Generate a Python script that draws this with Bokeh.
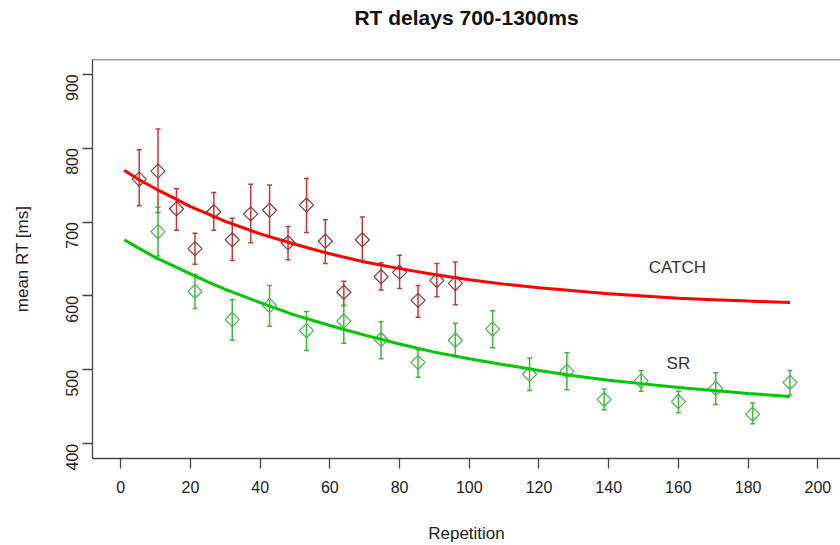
import math
from bokeh.plotting import figure
from bokeh.models import ColumnDataSource, Span, Range1d, FixedTicker, Label, Title
from bokeh.embed import file_html
from bokeh.resources import INLINE

# ---- data ----
catch_x = [5.3, 10.7, 16.0, 21.3, 26.7, 32.0, 37.3, 42.7, 48.0, 53.3, 58.7, 64.0,
           69.3, 74.7, 80.0, 85.3, 90.7, 96.0]
catch_mean = [758, 769, 718, 664, 714, 676, 711, 716, 672, 723, 674, 605,
              676, 626, 632, 594, 621, 617]
catch_lo = [722, 713, 689, 643, 689, 648, 672, 680, 649, 686, 644, 587,
            647, 608, 610, 571, 599, 588]
catch_hi = [798, 826, 745, 685, 740, 705, 751, 750, 694, 759, 703, 620,
            707, 645, 655, 614, 644, 646]

sr_x = [10.7, 21.3, 32.0, 42.7, 53.3, 64.0, 74.7, 85.3, 96.0, 106.7, 117.3, 128.0,
        138.7, 149.3, 160.0, 170.7, 181.3, 192.0]
sr_mean = [687, 606, 568, 587, 553, 566, 541, 510, 540, 555, 494, 498,
           460, 485, 457, 475, 440, 483]
sr_lo = [654, 583, 540, 559, 526, 536, 515, 490, 518, 530, 472, 473,
         446, 471, 442, 453, 427, 466]
sr_hi = [720, 629, 595, 614, 579, 587, 565, 527, 563, 580, 516, 523,
         474, 499, 471, 496, 455, 499]

curve_x = [1, 5, 10, 15, 20, 25, 30, 40, 50, 60, 70, 80, 90, 100, 110, 120, 130,
           140, 150, 160, 170, 180, 192]
catch_curve = [770, 758, 745, 733, 721, 711, 701, 684, 670, 657, 646, 637, 629,
               622, 616, 611, 607, 603, 600, 597, 595, 593, 591]
sr_curve = [676, 665, 652, 641, 630, 619, 609, 591, 574, 560, 547, 535, 524,
            515, 507, 499, 492, 486, 481, 476, 472, 468, 464]

x_ticks = [0, 20, 40, 60, 80, 100, 120, 140, 160, 180, 200]
y_ticks = [400, 500, 600, 700, 800, 900]
title_text = "RT delays 700-1300ms"

FONT = "Liberation Sans"
AXC = "#444444"

p = figure(width=840, height=545, output_backend="svg", toolbar_location=None,
           x_range=Range1d(-8.1, 206.5), y_range=Range1d(380, 920),
           min_border_left=92, min_border_right=0, min_border_top=0,
           min_border_bottom=86)
p.outline_line_color = None
p.xgrid.visible = False
p.ygrid.visible = False
p.background_fill_color = "white"
p.border_fill_color = "white"

p.title.text = title_text
p.title.align = "center"
p.title.text_font = FONT
p.title.text_font_size = "21px"
p.title.text_font_style = "bold"
p.title.text_color = "#111111"
p.title.standoff = 6

# blank spacer between title and plot box
p.add_layout(Title(text=" ", text_font_size="10px", standoff=15), "above")

for ax in (p.xaxis[0], p.yaxis[0]):
    ax.axis_line_color = AXC
    ax.axis_line_width = 1.3
    ax.major_tick_line_color = AXC
    ax.major_tick_line_width = 1.3
    ax.major_tick_out = 10
    ax.major_tick_in = 0
    ax.minor_tick_line_color = None
    ax.major_label_text_font = FONT
    ax.major_label_text_font_size = "16px"
    ax.major_label_text_color = "#222222"
    ax.axis_label_text_font = FONT
    ax.axis_label_text_font_size = "17px"
    ax.axis_label_text_font_style = "normal"
    ax.axis_label_text_color = "#222222"

p.xaxis.ticker = FixedTicker(ticks=x_ticks)
p.yaxis.ticker = FixedTicker(ticks=y_ticks)
p.xaxis.axis_label = "Repetition"
p.yaxis.axis_label = "mean RT [ms]"
p.xaxis.major_label_standoff = 12
p.xaxis.axis_label_standoff = 28
p.yaxis.major_label_orientation = math.pi / 2
p.yaxis.major_label_standoff = 10
p.yaxis.axis_label_standoff = 26

p.add_layout(Span(location=920, dimension="width", line_color=AXC, line_width=1.3))

catch_src = ColumnDataSource(dict(x=catch_x, m=catch_mean, lo=catch_lo, hi=catch_hi))
sr_src = ColumnDataSource(dict(x=sr_x, m=sr_mean, lo=sr_lo, hi=sr_hi))

for src, ecol, mcol in ((catch_src, "#C43a3a", "#8B3A3A"), (sr_src, "#3DB83D", "#4CAF50")):
    p.segment(x0="x", y0="lo", x1="x", y1="hi", source=src, line_color=ecol, line_width=1.5)
    p.scatter(x="x", y="lo", source=src, marker="dash", size=5, line_color=ecol, line_width=1.5)
    p.scatter(x="x", y="hi", source=src, marker="dash", size=5, line_color=ecol, line_width=1.5)
    p.scatter(x="x", y="m", source=src, marker="square", angle=math.pi / 4, size=10,
              fill_color=None, line_color=mcol, line_width=1.2)

p.line(curve_x, catch_curve, line_color="#FF0000", line_width=3)
p.line(curve_x, sr_curve, line_color="#00C800", line_width=3)

p.add_layout(Label(x=159.7, y=638, text="CATCH", text_align="center", text_baseline="middle",
                   text_font=FONT, text_font_size="17px", text_color="#333333"))
p.add_layout(Label(x=160, y=508, text="SR", text_align="center", text_baseline="middle",
                   text_font=FONT, text_font_size="17px", text_color="#333333"))

open("out.html", "w").write(file_html(p, INLINE))
